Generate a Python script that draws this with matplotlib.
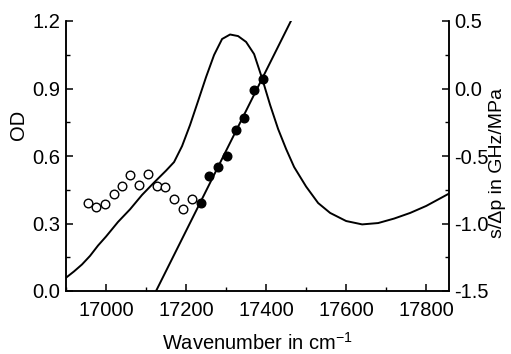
import matplotlib
matplotlib.use("Agg")
import matplotlib.pyplot as plt
from matplotlib.ticker import MultipleLocator

plt.rcParams['font.family'] = ['Liberation Sans', 'DejaVu Sans']

# Absorption spectrum (left axis)
od_wavenumber = [16900, 16920, 16940, 16960, 16980, 17000, 17030, 17060, 17090,
                 17120, 17150, 17170, 17190, 17210, 17230, 17250, 17270, 17290,
                 17310, 17330, 17350, 17370, 17390, 17410, 17430, 17450, 17470,
                 17500, 17530, 17560, 17600, 17640, 17680, 17720, 17760, 17800,
                 17855]
od_values = [0.059, 0.087, 0.118, 0.156, 0.202, 0.242, 0.307, 0.363, 0.427,
             0.482, 0.535, 0.573, 0.644, 0.738, 0.844, 0.951, 1.049, 1.120,
             1.140, 1.133, 1.107, 1.053, 0.945, 0.827, 0.720, 0.631, 0.551,
             0.464, 0.391, 0.347, 0.311, 0.296, 0.302, 0.322, 0.347, 0.378,
             0.431]

# Pressure shift coefficients (right axis)
open_wavenumber = [16954, 16976, 16998, 17019, 17040, 17061, 17083, 17106,
                   17127, 17148, 17171, 17193, 17215]
open_shift = [-0.850, -0.876, -0.853, -0.781, -0.722, -0.643, -0.713, -0.631,
              -0.724, -0.732, -0.821, -0.893, -0.816]

filled_wavenumber = [17237, 17258, 17280, 17302, 17324, 17346, 17369, 17391]
filled_shift = [-0.850, -0.646, -0.581, -0.498, -0.307, -0.221, -0.009, 0.068]

# Linear fit through the filled points
fit_wavenumber = [17125, 17462]
fit_shift = [-1.5, 0.5]

FS = 14.5

fig = plt.figure(figsize=(5.11, 3.54), dpi=100)
ax = fig.add_axes([66/511, 1-291/354, (449-66)/511, (291-21)/354])
ax2 = ax.twinx()

ax.plot(od_wavenumber, od_values, color='black', lw=1.4)
ax2.plot(fit_wavenumber, fit_shift, color='black', lw=1.4)
ax2.plot(open_wavenumber, open_shift, 'o', mfc='white', mec='black', mew=1.0,
         ms=6.2, linestyle='none')
ax2.plot(filled_wavenumber, filled_shift, 'o', color='black', ms=6.2,
         linestyle='none')

ax.set_xlim(16900, 17857)
ax.set_ylim(0, 1.2)
ax2.set_ylim(-1.5, 0.5)

ax.xaxis.set_major_locator(MultipleLocator(200))
ax.xaxis.set_minor_locator(MultipleLocator(100))
ax.yaxis.set_major_locator(MultipleLocator(0.3))
ax.yaxis.set_minor_locator(MultipleLocator(0.15))
ax2.yaxis.set_major_locator(MultipleLocator(0.5))
ax2.yaxis.set_minor_locator(MultipleLocator(0.25))
ax.yaxis.set_major_formatter(plt.FormatStrFormatter('%.1f'))
ax2.yaxis.set_major_formatter(plt.FormatStrFormatter('%.1f'))

for a in (ax, ax2):
    a.spines['top'].set_visible(False)
    for s in a.spines.values():
        s.set_linewidth(1.1)
    a.tick_params(which='major', direction='in', length=5, width=1.1,
                  labelsize=FS, pad=4)
    a.tick_params(which='minor', direction='in', length=3, width=1.0)
ax.tick_params(axis='y', which='both', right=False)
ax.tick_params(axis='x', which='both', top=False)
ax.tick_params(axis='x', which='major', pad=7)
ax2.tick_params(axis='y', which='both', left=False)

ax.set_xlabel('Wavenumber in cm$^{\\mathregular{-1}}$', fontsize=FS)
ax.xaxis.set_label_coords(0.5, -0.15)
ax.set_ylabel('OD', fontsize=FS)
ax2.set_ylabel('s/\u0394p in GHz/MPa', fontsize=14)
ax.yaxis.set_label_coords(-0.1, 0.615)
ax2.yaxis.set_label_coords(1.105, 0.474)

fig.savefig('out.png', dpi=100)
